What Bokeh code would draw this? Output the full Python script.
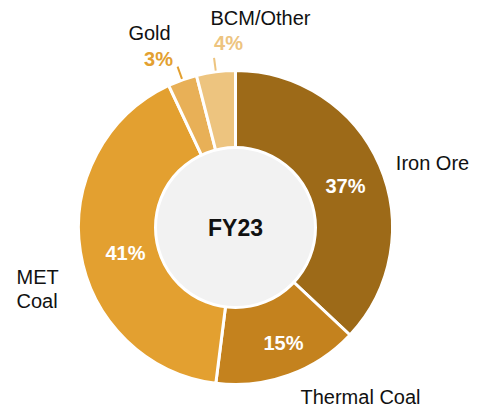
import math
from bokeh.plotting import figure
from bokeh.models import ColumnDataSource, Range1d
from bokeh.core.properties import value
from bokeh.embed import file_html
from bokeh.resources import INLINE

# ---- data ----
segments = ["Iron Ore", "Thermal Coal", "MET Coal", "Gold", "BCM/Other"]
shares = [37, 15, 41, 3, 4]
pct_labels = ["37%", "15%", "41%", "3%", "4%"]
center_label = "FY23"

# ---- style / layout ----
colors = ["#9D6A18", "#C4821E", "#E3A030", "#E8B057", "#EDC47F"]
W, H = 471, 406
FONT = value("Liberation Sans")

def X(px):
    return px

def Y(py):
    return H - py

cx, cy = X(235), Y(227)
R_OUT, R_IN = 157, 80

total = float(sum(shares))
starts, ends, mids = [], [], []
cum = 0.0
for s in shares:
    a0 = cum / total
    cum += s
    a1 = cum / total
    # clockwise from 12 o'clock, converted to anticlockwise angles
    starts.append(math.pi / 2 - 2 * math.pi * a1)
    ends.append(math.pi / 2 - 2 * math.pi * a0)
    mids.append(math.pi / 2 - 2 * math.pi * (a0 + a1) / 2)

src = ColumnDataSource(dict(seg=segments, start=starts, end=ends, color=colors))

p = figure(width=W, height=H, output_backend="svg", toolbar_location=None,
           x_range=Range1d(0, W), y_range=Range1d(0, H), min_border=0)
p.axis.visible = False
p.grid.visible = False
p.outline_line_color = None
p.background_fill_color = "white"
p.border_fill_color = "white"

p.wedge(x=cx, y=cy, radius=R_OUT, start_angle="start", end_angle="end",
        fill_color="color", line_color="white", line_width=3, source=src)

p.scatter(x=[cx], y=[cy], size=2 * R_IN, fill_color="#F2F2F2",
          line_color="white", line_width=3)

p.text(x=[cx], y=[cy], text=[center_label], text_font=FONT,
       text_font_size="23px", text_font_style="bold", text_color="#111111",
       text_align="center", text_baseline="middle")

# inside percentage labels (white)
in_pos = [(345, 185), (283, 342), (125, 252)]
for (px, py), lab in zip(in_pos, pct_labels[:3]):
    p.text(x=[X(px)], y=[Y(py)], text=[lab], text_font=FONT,
           text_font_size="20px", text_font_style="bold", text_color="white",
           text_align="center", text_baseline="middle")

# outside percentage labels (small segments)
out_pos = [(158, 58), (228, 42)]
out_cols = ["#E3A030", "#EDC47F"]
for (px, py), lab, c in zip(out_pos, pct_labels[3:], out_cols):
    p.text(x=[X(px)], y=[Y(py)], text=[lab], text_font=FONT,
           text_font_size="20px", text_font_style="bold", text_color=c,
           text_align="center", text_baseline="middle")

# leader lines for the small segments
for i, c in zip([3, 4], out_cols):
    a = mids[i]
    x0 = cx + (R_OUT + 1) * math.cos(a)
    y0 = cy + (R_OUT + 1) * math.sin(a)
    x1 = cx + (R_OUT + 14) * math.cos(a)
    y1 = cy + (R_OUT + 14) * math.sin(a)
    p.line(x=[x0, x1], y=[y0, y1], line_color=c, line_width=2)

# category labels
cat_pos = [(432, 162, "center"), (360, 396, "center"), (16, 276, "left"),
           (149, 32, "center"), (260, 17, "center")]
cat_text = ["Iron Ore", "Thermal Coal", "MET", "Gold", "BCM/Other"]
for (px, py, al), lab in zip(cat_pos, cat_text):
    p.text(x=[X(px)], y=[Y(py)], text=[lab], text_font=FONT,
           text_font_size="20px", text_color="#111111",
           text_align=al, text_baseline="middle")
p.text(x=[X(16)], y=[Y(300)], text=["Coal"], text_font=FONT,
       text_font_size="20px", text_color="#111111",
       text_align="left", text_baseline="middle")

open("out.html", "w").write(file_html(p, INLINE))
